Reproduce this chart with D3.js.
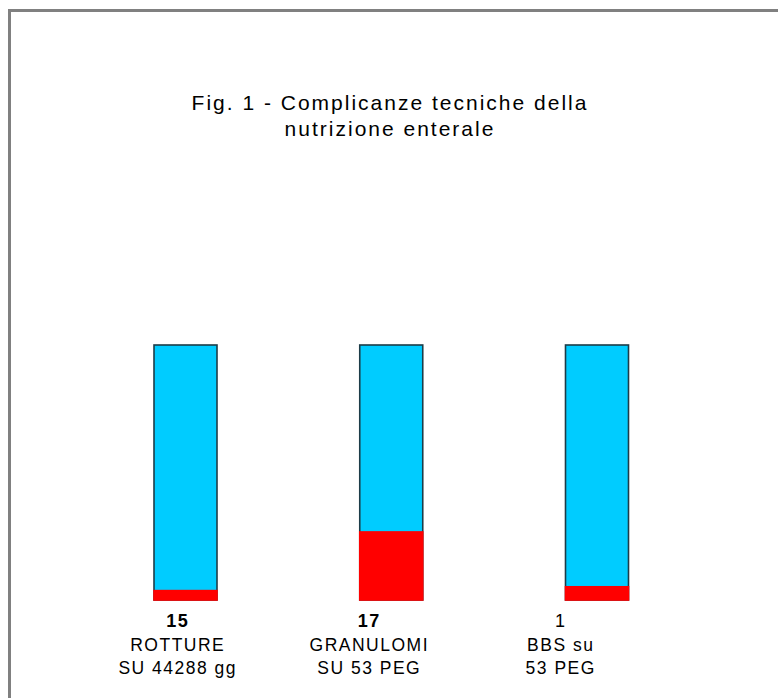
<!DOCTYPE html>
<html>
<head>
<meta charset="utf-8">
<script src="https://cdn.jsdelivr.net/npm/d3@7"></script>
<style>
  html, body { margin: 0; padding: 0; background: #ffffff; }
  svg { display: block; }
  text { font-family: "Liberation Sans", Arial, sans-serif; fill: #000; }
</style>
</head>
<body>
<svg id="chart" width="778" height="698"></svg>
<script>
// Categories of technical complications
const categories = ["ROTTURE", "GRANULOMI", "BBS"];
// Number of events shown under each bar
const counts = ["15", "17", "1"];
const countBold = [true, true, false];
// Two-line descriptions under the counts
const labelLine1 = ["ROTTURE", "GRANULOMI", "BBS su"];
const labelLine2 = ["SU 44288 gg", "SU 53 PEG", "53 PEG"];
// Share of each bar (percent) shown in red; the rest is shown in blue
const redShare = [4, 27, 5.5];
const titleLines = ["Fig. 1 - Complicanze tecniche della", "nutrizione enterale"];

const rows = categories.map((c, i) => ({ cat: c, red: redShare[i], blue: 100 - redShare[i] }));

const svg = d3.select("#chart");
const W = 778, H = 698;

// Frame: grey rule along the top and left
svg.append("path")
  .attr("d", `M9.5,${H} V10.5 H${W}`)
  .attr("fill", "none")
  .attr("stroke", "#808080")
  .attr("stroke-width", 3);

// Title
const titleSpacing = 2;
svg.append("text")
  .attr("text-anchor", "middle")
  .style("font-size", "21px")
  .style("letter-spacing", titleSpacing + "px")
  .selectAll("tspan")
  .data(titleLines)
  .join("tspan")
  .attr("x", 389 + titleSpacing / 2)
  .attr("y", (d, i) => 110 + i * 26)
  .text(d => d);

const x = d3.scalePoint().domain(categories).range([185.5, 597]);
const xLabel = d3.scalePoint().domain(categories).range([177, 560]);
const y = d3.scaleLinear().domain([0, 100]).range([600, 345]);
const barW = 63;

const stack = d3.stack().keys(["red", "blue"]);
const series = stack(rows);
const colors = { red: "#ff0000", blue: "#00ccff" };

// Full bar outline
svg.append("g")
  .selectAll("rect")
  .data(rows)
  .join("rect")
  .attr("x", d => x(d.cat) - barW / 2)
  .attr("y", y(100))
  .attr("width", barW)
  .attr("height", y(0) - y(100))
  .attr("fill", colors.blue)
  .attr("stroke", "#1c3c48")
  .attr("stroke-width", 1.6);

// Red segment at the base of each bar
const redSeries = series.find(s => s.key === "red");
svg.append("g")
  .selectAll("rect")
  .data(redSeries)
  .join("rect")
  .attr("x", d => x(d.data.cat) - barW / 2 - 0.8)
  .attr("y", d => y(d[1]))
  .attr("width", barW + 1.6)
  .attr("height", d => y(d[0]) - y(d[1]) + 0.8)
  .attr("fill", colors.red);

// Labels under the bars
const labelSpacing = 1.5;
const lab = svg.append("g")
  .style("letter-spacing", labelSpacing + "px")
  .selectAll("g")
  .data(categories)
  .join("g")
  .attr("transform", d => `translate(${xLabel(d) + labelSpacing / 2},0)`);

lab.append("text")
  .attr("text-anchor", "middle")
  .attr("y", 627)
  .style("font-size", "18px")
  .style("font-weight", (d, i) => countBold[i] ? "bold" : "normal")
  .text((d, i) => counts[i]);

lab.append("text")
  .attr("text-anchor", "middle")
  .attr("y", 651)
  .style("font-size", "17.5px")
  .text((d, i) => labelLine1[i]);

lab.append("text")
  .attr("text-anchor", "middle")
  .attr("y", 674)
  .style("font-size", "17.5px")
  .text((d, i) => labelLine2[i]);
</script>
</body>
</html>
